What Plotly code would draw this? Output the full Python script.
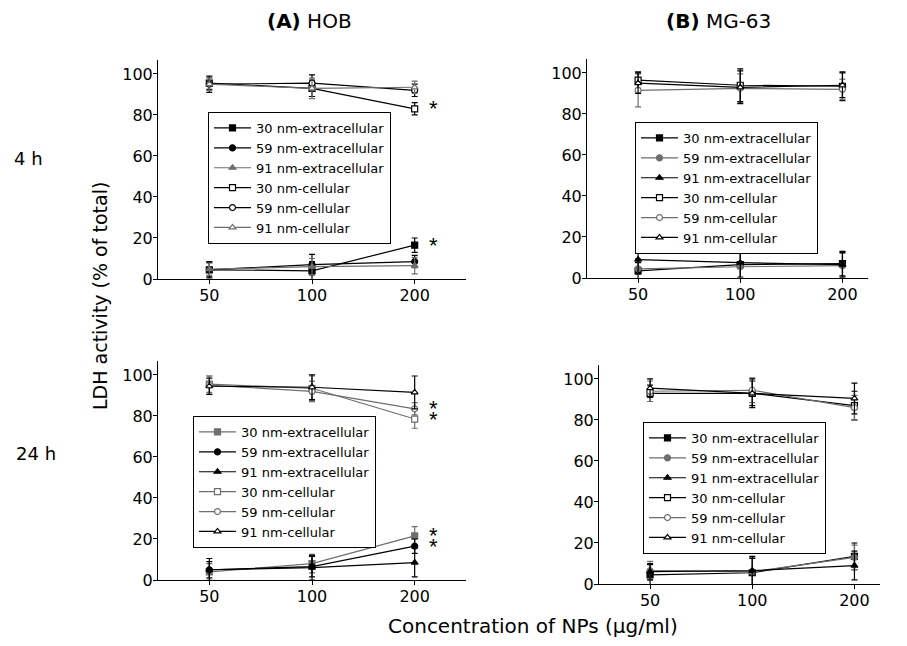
import plotly.graph_objects as go

# ---------------- data ----------------
concentrations = ["50", "100", "200"]
series_names = ["30 nm-extracellular", "59 nm-extracellular", "91 nm-extracellular",
                "30 nm-cellular", "59 nm-cellular", "91 nm-cellular"]

# 4 h, HOB
hob4_ext30 = [4.5, 4.0, 16.5]; hob4_ext30_err = [3.5, 4.5, 3.5]
hob4_ext59 = [4.5, 7.0, 8.5];  hob4_ext59_err = [4.0, 5.0, 3.0]
hob4_ext91 = [4.8, 6.0, 6.5];  hob4_ext91_err = [3.0, 4.0, 4.0]
hob4_cell30 = [95.5, 93.0, 83.0]; hob4_cell30_err = [3.0, 4.0, 3.0]
hob4_cell59 = [95.0, 95.5, 92.0]; hob4_cell59_err = [4.0, 4.0, 3.0]
hob4_cell91 = [95.0, 93.0, 93.5]; hob4_cell91_err = [3.0, 5.0, 3.0]

# 4 h, MG-63
mg4_ext30 = [3.5, 6.5, 7.0]; mg4_ext30_err = [4.0, 7.0, 6.0]
mg4_ext59 = [4.5, 5.5, 6.0]; mg4_ext59_err = [5.0, 7.0, 6.0]
mg4_ext91 = [9.0, 7.5, 6.5]; mg4_ext91_err = [7.0, 7.0, 6.0]
mg4_cell30 = [96.5, 94.0, 93.5]; mg4_cell30_err = [4.0, 8.0, 7.0]
mg4_cell59 = [91.5, 92.5, 92.0]; mg4_cell59_err = [8.0, 7.0, 5.0]
mg4_cell91 = [95.0, 93.0, 94.0]; mg4_cell91_err = [5.0, 8.0, 6.0]

# 24 h, HOB
hob24_ext30 = [4.0, 8.0, 21.5]; hob24_ext30_err = [4.0, 4.5, 4.5]
hob24_ext59 = [5.0, 6.5, 16.5]; hob24_ext59_err = [5.5, 5.0, 3.5]
hob24_ext91 = [5.0, 6.0, 8.5];  hob24_ext91_err = [4.0, 6.0, 7.0]
hob24_cell30 = [95.5, 93.5, 78.5]; hob24_cell30_err = [4.0, 6.0, 4.5]
hob24_cell59 = [95.0, 92.0, 83.5]; hob24_cell59_err = [4.5, 5.0, 3.0]
hob24_cell91 = [94.5, 94.0, 91.5]; hob24_cell91_err = [4.0, 6.0, 8.0]

# 24 h, MG-63
mg24_ext30 = [4.5, 5.5, 13.5]; mg24_ext30_err = [5.0, 7.0, 6.5]
mg24_ext59 = [6.5, 6.0, 13.0]; mg24_ext59_err = [4.5, 7.0, 6.0]
mg24_ext91 = [6.0, 6.5, 9.0];  mg24_ext91_err = [4.0, 7.0, 7.0]
mg24_cell30 = [93.0, 93.0, 87.0]; mg24_cell30_err = [4.0, 6.0, 7.0]
mg24_cell59 = [94.0, 94.5, 86.0]; mg24_cell59_err = [5.0, 6.0, 6.0]
mg24_cell91 = [95.5, 93.0, 90.5]; mg24_cell91_err = [4.5, 7.0, 7.5]

# significance stars: (category, value)
stars_hob4 = [("200", 83.0), ("200", 16.5)]
stars_hob24 = [("200", 83.5), ("200", 78.5), ("200", 21.5), ("200", 16.5)]

y_ticks = [0, 20, 40, 60, 80, 100]

# ---------------- styling ----------------
FONT = "DejaVu Sans, Arial, sans-serif"
BLK = "#000000"
GRY = "#6e6e6e"
symbols = ["square", "circle", "triangle-up", "square", "circle", "triangle-up"]

panels = [
    dict(ax="", leg="legend",
         vals=[hob4_ext30, hob4_ext59, hob4_ext91, hob4_cell30, hob4_cell59, hob4_cell91],
         errs=[hob4_ext30_err, hob4_ext59_err, hob4_ext91_err, hob4_cell30_err, hob4_cell59_err, hob4_cell91_err],
         cols=[BLK, BLK, GRY, BLK, BLK, GRY]),
    dict(ax="2", leg="legend2",
         vals=[mg4_ext30, mg4_ext59, mg4_ext91, mg4_cell30, mg4_cell59, mg4_cell91],
         errs=[mg4_ext30_err, mg4_ext59_err, mg4_ext91_err, mg4_cell30_err, mg4_cell59_err, mg4_cell91_err],
         cols=[BLK, GRY, BLK, BLK, GRY, BLK]),
    dict(ax="3", leg="legend3",
         vals=[hob24_ext30, hob24_ext59, hob24_ext91, hob24_cell30, hob24_cell59, hob24_cell91],
         errs=[hob24_ext30_err, hob24_ext59_err, hob24_ext91_err, hob24_cell30_err, hob24_cell59_err, hob24_cell91_err],
         cols=[GRY, BLK, BLK, GRY, GRY, BLK]),
    dict(ax="4", leg="legend4",
         vals=[mg24_ext30, mg24_ext59, mg24_ext91, mg24_cell30, mg24_cell59, mg24_cell91],
         errs=[mg24_ext30_err, mg24_ext59_err, mg24_ext91_err, mg24_cell30_err, mg24_cell59_err, mg24_cell91_err],
         cols=[BLK, GRY, BLK, BLK, GRY, BLK]),
]

fig = go.Figure()
for p in panels:
    for i in range(6):
        fig.add_trace(go.Scatter(
            x=concentrations, y=p["vals"][i], name=series_names[i],
            mode="lines+markers",
            line=dict(color=p["cols"][i], width=1.2),
            marker=dict(symbol=symbols[i], size=6,
                        color=p["cols"][i] if i < 3 else "white",
                        line=dict(color=p["cols"][i], width=1.2)),
            error_y=dict(type="data", array=p["errs"][i], color=p["cols"][i],
                         thickness=1.2, width=3),
            xaxis="x" + p["ax"], yaxis="y" + p["ax"], legend=p["leg"],
        ))

W, H = 907, 646
S = 0.9845  # observed vertical scale of the photographed page


def dx(a, b):
    return [a / W, b / W]


def py(y):
    """paper y-fraction for a target pixel row (from top)."""
    return 1 - (y / S) / H


def dy(top, bottom):
    return [py(bottom), py(top)]


axis_common = dict(showline=True, linecolor=BLK, linewidth=1, ticks="outside",
                   ticklen=4, tickcolor=BLK, showgrid=False, zeroline=False,
                   tickfont=dict(family=FONT, size=16, color=BLK))
xaxis_common = dict(axis_common, type="category", categoryorder="array",
                    categoryarray=concentrations, ticklabelstandoff=-2)
yaxis_common = dict(axis_common, range=[0, 106.8], tickvals=y_ticks,
                    ticklabelstandoff=-3)

layout = dict(
    width=W, height=H, margin=dict(l=0, r=0, t=0, b=0),
    paper_bgcolor="white", plot_bgcolor="white",
    font=dict(family=FONT, color=BLK),
    xaxis=dict(xaxis_common, domain=dx(158, 466), range=[-0.5, 2.5], anchor="y"),
    yaxis=dict(yaxis_common, domain=dy(60, 279), anchor="x"),
    xaxis2=dict(xaxis_common, domain=dx(587, 868), range=[-0.5, 2.25], anchor="y2"),
    yaxis2=dict(yaxis_common, domain=dy(59, 278), anchor="x2"),
    xaxis3=dict(xaxis_common, domain=dx(158, 466), range=[-0.5, 2.5], anchor="y3"),
    yaxis3=dict(yaxis_common, domain=dy(361, 580), anchor="x3"),
    xaxis4=dict(xaxis_common, domain=dx(599, 880), range=[-0.5, 2.25], anchor="y4"),
    yaxis4=dict(yaxis_common, domain=dy(365, 584), anchor="x4"),
    showlegend=True,
)
leg_common = dict(bgcolor="white", bordercolor=BLK, borderwidth=1,
                  font=dict(family=FONT, size=13, color=BLK),
                  xanchor="left", yanchor="top", tracegroupgap=0, itemwidth=37)
for name, (lx, ly) in zip(["legend", "legend2", "legend3", "legend4"],
                          [(208, 112), (635, 122), (193, 416), (643, 422)]):
    layout[name] = dict(leg_common, x=lx / W, y=py(ly))
fig.update_layout(**layout)

ann = []


def star(xref, yref, cat, val):
    return dict(x=concentrations.index(cat), y=val, xref=xref, yref=yref, text="*",
                showarrow=False, xanchor="center", yanchor="middle",
                xshift=19, yshift=0,
                font=dict(family="Arial, Liberation Sans", size=22, color=BLK))


for c, v in stars_hob4:
    ann.append(star("x", "y", c, v))
for c, v in stars_hob24:
    ann.append(star("x3", "y3", c, v))


def txt(**k):
    ann.append(dict(showarrow=False, xref="paper", yref="paper",
                    xanchor=k.pop("xanchor", "center"), yanchor="middle", **k))


txt(x=309 / W, y=py(21), text="<b>(A)</b> HOB", font=dict(family=FONT, size=20, color=BLK))
txt(x=718 / W, y=py(21), text="<b>(B)</b> MG-63", font=dict(family=FONT, size=20, color=BLK))
txt(x=12 / W, y=py(158), xanchor="left", text="4 h", font=dict(family=FONT, size=18, color=BLK))
txt(x=14 / W, y=py(453), xanchor="left", text="24 h", font=dict(family=FONT, size=18, color=BLK))
txt(x=100 / W, y=py(296), text="LDH activity (% of total)", textangle=-90,
    font=dict(family=FONT, size=19, color=BLK))
txt(x=533 / W, y=py(626), text="Concentration of NPs (μg/ml)",
    font=dict(family=FONT, size=20, color=BLK))
fig.update_layout(annotations=ann)

fig.write_html(
    "out.html",
    config={"displayModeBar": False},
    post_script=("document.documentElement.style.margin='0';"
                 "document.documentElement.style.overflow='hidden';"
                 "document.body.style.margin='0';document.body.style.padding='0';"
                 "document.body.style.overflow='hidden';"),
)
